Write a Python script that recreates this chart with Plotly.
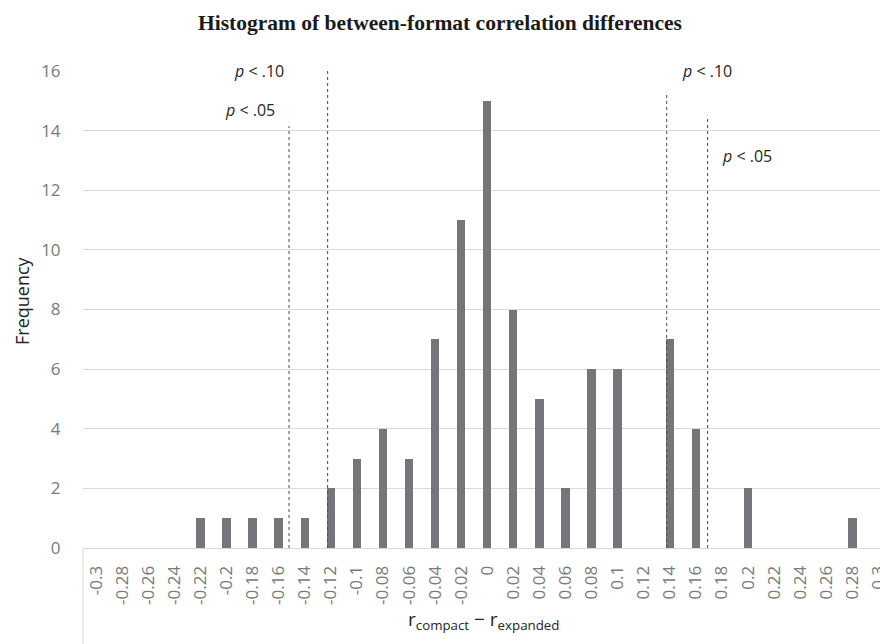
import plotly.graph_objects as go

# ---- data ----
bin_values = [-0.3, -0.28, -0.26, -0.24, -0.22, -0.2, -0.18, -0.16, -0.14, -0.12, -0.1,
              -0.08, -0.06, -0.04, -0.02, 0.0, 0.02, 0.04, 0.06, 0.08, 0.1,
              0.12, 0.14, 0.16, 0.18, 0.2, 0.22, 0.24, 0.26, 0.28, 0.3]
tick_labels = ["-0.3", "-0.28", "-0.26", "-0.24", "-0.22", "-0.2", "-0.18", "-0.16", "-0.14", "-0.12", "-0.1",
               "-0.08", "-0.06", "-0.04", "-0.02", "0", "0.02", "0.04", "0.06", "0.08", "0.1",
               "0.12", "0.14", "0.16", "0.18", "0.2", "0.22", "0.24", "0.26", "0.28", "0.3"]
frequency = [0, 0, 0, 0, 1, 1, 1, 1, 1, 2, 3,
             4, 3, 7, 11, 15, 8, 5, 2, 6, 6,
             0, 7, 4, 0, 2, 0, 0, 0, 1, 0]

# significance thresholds (x position, top of dashed line)
threshold_x = [-0.152, -0.1224, 0.1376, 0.169]
threshold_top = [14.15, 16.0, 15.3, 14.5]
label_text = ["<i>p</i> < .10", "<i>p</i> < .05", "<i>p</i> < .10", "<i>p</i> < .05"]
label_x = [-0.175, -0.182, 0.1685, 0.199]
label_y = [16.0, 14.69, 16.0, 13.15]
# gaps in the top gridline behind the "p < .10" labels (x from, x to)
gap_x0 = [-0.2065, 0.137]
gap_x1 = [-0.1244, 0.2184]

X_RANGE = [-0.31, 0.3012]
Y_RANGE = [0, 16]

FONT = "Open Sans, DejaVu Sans, sans-serif"
GRID = "#d9d9d9"


def xpaper(v):
    return (v - X_RANGE[0]) / (X_RANGE[1] - X_RANGE[0])


fig = go.Figure()
fig.add_trace(go.Bar(
    x=bin_values, y=frequency, width=0.0064,
    marker=dict(color="#76767a", line=dict(width=0)),
    showlegend=False, hoverinfo="x+y",
))

shapes = []
for a, b in zip(gap_x0, gap_x1):
    shapes.append(dict(type="rect", xref="paper", yref="paper", x0=xpaper(a), x1=xpaper(b),
                       y0=0.99, y1=1.01, fillcolor="white", line=dict(width=0), layer="above"))
for xv, top in zip(threshold_x, threshold_top):
    shapes.append(dict(type="line", xref="x", yref="y", x0=xv, x1=xv, y0=0, y1=top,
                       line=dict(color="#4a4a4a", width=1, dash="dot"), layer="above"))
# left border line below the axis (Excel frame)
shapes.append(dict(type="line", xref="paper", yref="paper", x0=0, x1=0, y0=0, y1=-96 / 477,
                   line=dict(color=GRID, width=1)))

annotations = []
for t, xv, yv in zip(label_text, label_x, label_y):
    annotations.append(dict(x=xv, y=yv, xref="x", yref="y", text=t, showarrow=False,
                            xanchor="center", yanchor="middle",
                            font=dict(family=FONT, size=16, color="#262626")))
# axis titles
annotations.append(dict(x=(22 - 83) / 797, y=(548 - 300) / 477, xref="paper", yref="paper",
                        text="Frequency", showarrow=False, textangle=-90,
                        xanchor="center", yanchor="middle",
                        font=dict(family=FONT, size=18, color="#262626")))
annotations.append(dict(x=(483 - 83) / 797, y=(548 - 620) / 477, xref="paper", yref="paper",
                        text="r<sub>compact</sub> − r<sub>expanded</sub>", showarrow=False,
                        xanchor="center", yanchor="middle",
                        font=dict(family=FONT, size=19, color="#262626")))

fig.update_layout(
    width=880, height=644,
    margin=dict(l=83, r=0, t=71, b=96, pad=0, autoexpand=False),
    paper_bgcolor="white", plot_bgcolor="white",
    title=dict(text="<b>Histogram of between-format correlation differences</b>",
               x=0.5, xref="container", xanchor="center",
               y=1 - 22 / 644, yref="container", yanchor="middle",
               font=dict(family="Liberation Serif, Times New Roman, serif", size=21.5, color="#1a1a1a")),
    bargap=0,
    shapes=shapes, annotations=annotations,
    showlegend=False,
)
fig.update_xaxes(
    range=X_RANGE, tickmode="array", tickvals=bin_values, ticktext=tick_labels,
    tickangle=-90, showgrid=False, zeroline=False, automargin=False,
    showline=True, linecolor=GRID, linewidth=1,
    ticks="outside", ticklen=10, tickcolor="rgba(0,0,0,0)",
    ticklabeloverflow="allow",
    tickfont=dict(family=FONT, size=17, color="#7a7a7a"),
)
fig.update_yaxes(
    range=Y_RANGE, tickmode="array", tickvals=[0, 2, 4, 6, 8, 10, 12, 14, 16],
    showgrid=True, gridcolor=GRID, gridwidth=1, zeroline=False, showline=False, automargin=False,
    ticks="outside", ticklen=18, tickcolor="rgba(0,0,0,0)",
    tickfont=dict(family=FONT, size=17, color="#7a7a7a"),
)

fig.write_html("out.html", config={"displayModeBar": False},
               post_script="document.body.style.margin='0';document.body.style.padding='0';")
